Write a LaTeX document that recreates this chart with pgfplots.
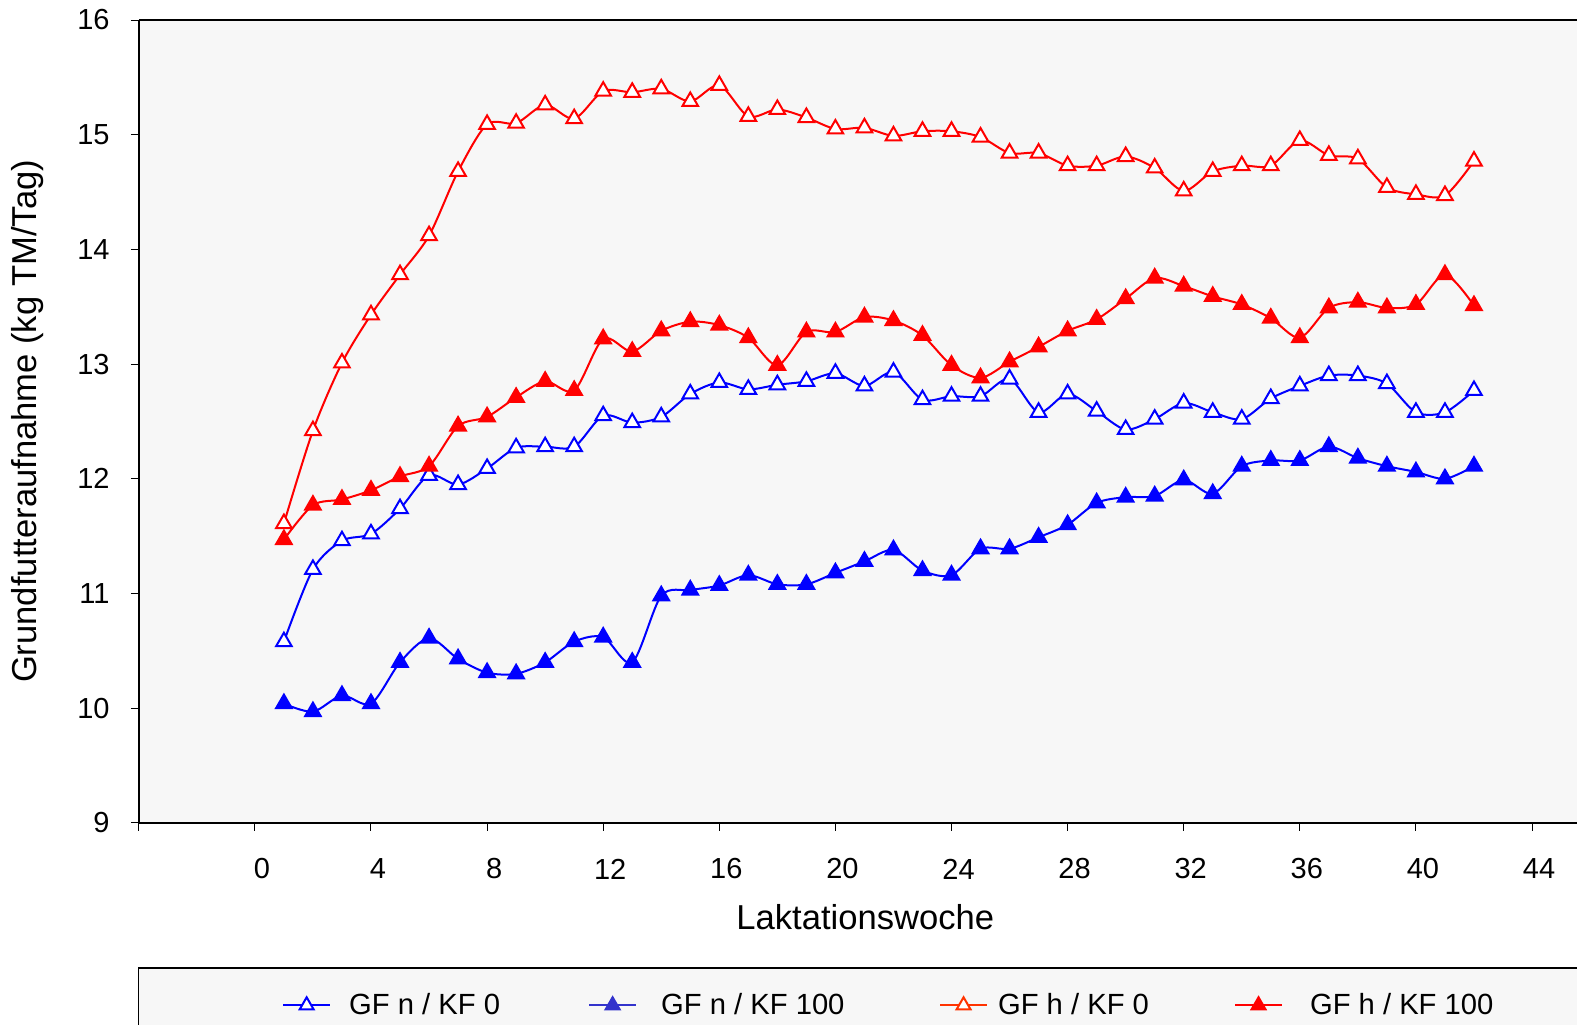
\documentclass[border=0pt]{standalone}
\usepackage{pgfplots}
\pgfplotsset{compat=1.18}
\usepackage{pgfplotstable}
\usepackage{fontspec}
\setmainfont{Liberation Sans}
\definecolor{bggray}{RGB}{247,247,247}
\definecolor{lgblue}{RGB}{51,51,204}
\definecolor{lgred}{RGB}{255,51,0}

\pgfplotstableread{
w   na     nb     ha     hb
1   10.58  10.04  11.61  11.47
2   11.21  9.97   12.42  11.77
3   11.46  10.11  13.01  11.82
4   11.52  10.04  13.43  11.90
5   11.74  10.40  13.78  12.02
6   12.03  10.61  14.12  12.11
7   11.95  10.43  14.68  12.46
8   12.09  10.31  15.09  12.54
9   12.27  10.30  15.10  12.71
10  12.28  10.40  15.26  12.85
11  12.28  10.58  15.14  12.77
12  12.55  10.62  15.38  13.22
13  12.49  10.40  15.37  13.11
14  12.54  10.98  15.40  13.29
15  12.74  11.03  15.29  13.37
16  12.84  11.07  15.43  13.34
17  12.78  11.16  15.16  13.23
18  12.82  11.08  15.22  12.99
19  12.85  11.08  15.15  13.28
20  12.92  11.18  15.05  13.28
21  12.81  11.28  15.06  13.41
22  12.93  11.38  14.99  13.38
23  12.69  11.20  15.03  13.25
24  12.72  11.16  15.03  12.99
25  12.72  11.39  14.98  12.88
26  12.87  11.39  14.84  13.02
27  12.58  11.49  14.84  13.15
28  12.74  11.60  14.73  13.29
29  12.59  11.79  14.73  13.39
30  12.43  11.84  14.81  13.57
31  12.52  11.85  14.71  13.75
32  12.66  11.99  14.51  13.68
33  12.58  11.87  14.68  13.59
34  12.52  12.11  14.73  13.52
35  12.70  12.16  14.73  13.40
36  12.81  12.16  14.95  13.23
37  12.90  12.28  14.82  13.49
38  12.90  12.18  14.79  13.54
39  12.83  12.11  14.54  13.49
40  12.58  12.06  14.48  13.52
41  12.58  12.00  14.47  13.78
42  12.77  12.11  14.77  13.51
}\datatable

\begin{document}
\begin{tikzpicture}
\begin{axis}[
  scale only axis,
  width=719.2pt, height=401.5pt,
  xmin=-4, xmax=45.55, ymin=9, ymax=16,
  axis x line*=box, axis y line*=left,
  axis line style={black, line width=1pt},
  axis background/.style={fill=bggray},
  clip=false,
  xtick={-4,0,4,8,12,16,20,24,28,32,36,40,44},
  xticklabels={{},0,4,8,12,16,20,24,28,32,36,40,44},
  ytick={9,10,11,12,13,14,15,16},
  xtick pos=bottom, ytick pos=left,
  tick align=outside,
  major tick length=4pt,
  tick style={black, line width=0.5pt},
  /pgf/number format/assume math mode=true,
  xticklabel style={anchor=center, inner sep=0pt, yshift=-19pt, xshift=3.5pt, font=\fontsize{14.5pt}{17pt}\selectfont},
  yticklabel style={anchor=east, inner sep=0pt, xshift=-10.4pt, font=\fontsize{14.5pt}{17pt}\selectfont},
  xlabel={Laktationswoche},
  xlabel style={at={(axis cs:21.03,8.18)}, anchor=center, inner sep=0pt, font=\fontsize{17.3pt}{20pt}\selectfont},
  ylabel={Grundfutteraufnahme (kg TM/Tag)},
  ylabel style={at={(axis description cs:-0.0772,0.5)}, anchor=center, rotate=0, inner sep=0pt, font=\fontsize{17.3pt}{20pt}\selectfont},
  legend columns=4,
  legend style={draw=none, fill=none, at={(axis cs:0.94,7.41)}, anchor=west,
    inner sep=0pt, outer sep=0pt, column sep=0pt,
    nodes={inner sep=0pt, outer sep=0pt},
    font=\fontsize{14.6pt}{17pt}\selectfont},
  legend cell align=left,
  legend image code/.code={\draw[mark repeat=2,mark phase=2,#1] plot coordinates {(0pt,0pt)(11.75pt,0pt)(23.5pt,0pt)};},
]
\draw[black, line width=0.6pt, fill=bggray] (axis cs:-4,7.735) rectangle (axis cs:47,7.0);

\addplot[forget plot, blue, line width=1pt, smooth, mark=triangle*, mark size=4.5pt, mark options={fill=white, solid}] table[x=w, y=na] {\datatable};
\addplot[forget plot, blue, line width=1pt, smooth, mark=triangle*, mark size=4.5pt, mark options={fill=blue, solid}] table[x=w, y=nb] {\datatable};
\addplot[forget plot, red, line width=1pt, smooth, mark=triangle*, mark size=4.5pt, mark options={fill=white, solid}] table[x=w, y=ha] {\datatable};
\addplot[forget plot, red, line width=1pt, smooth, mark=triangle*, mark size=4.5pt, mark options={fill=red, solid}] table[x=w, y=hb] {\datatable};

\addlegendimage{blue, line width=1pt, mark=triangle*, mark size=4pt, mark options={fill=white}}
\addlegendentry{\makebox[128.5pt][l]{\hspace{9pt}GF n / KF 0}}
\addlegendimage{lgblue, line width=1pt, mark=triangle*, mark size=4pt, mark options={fill=lgblue}}
\addlegendentry{\makebox[151pt][l]{\hspace{12pt}GF n / KF 100}}
\addlegendimage{lgred, line width=1pt, mark=triangle*, mark size=4pt, mark options={fill=white}}
\addlegendentry{\makebox[123pt][l]{\hspace{5pt}GF h / KF 0}}
\addlegendimage{red, line width=1pt, mark=triangle*, mark size=4pt, mark options={fill=red}}
\addlegendentry{\hspace{13.5pt}GF h / KF 100}
\end{axis}
\pgfresetboundingbox
\useasboundingbox (-69.4pt,-101pt) rectangle (719.2pt,411.5pt);
\end{tikzpicture}
\end{document}
